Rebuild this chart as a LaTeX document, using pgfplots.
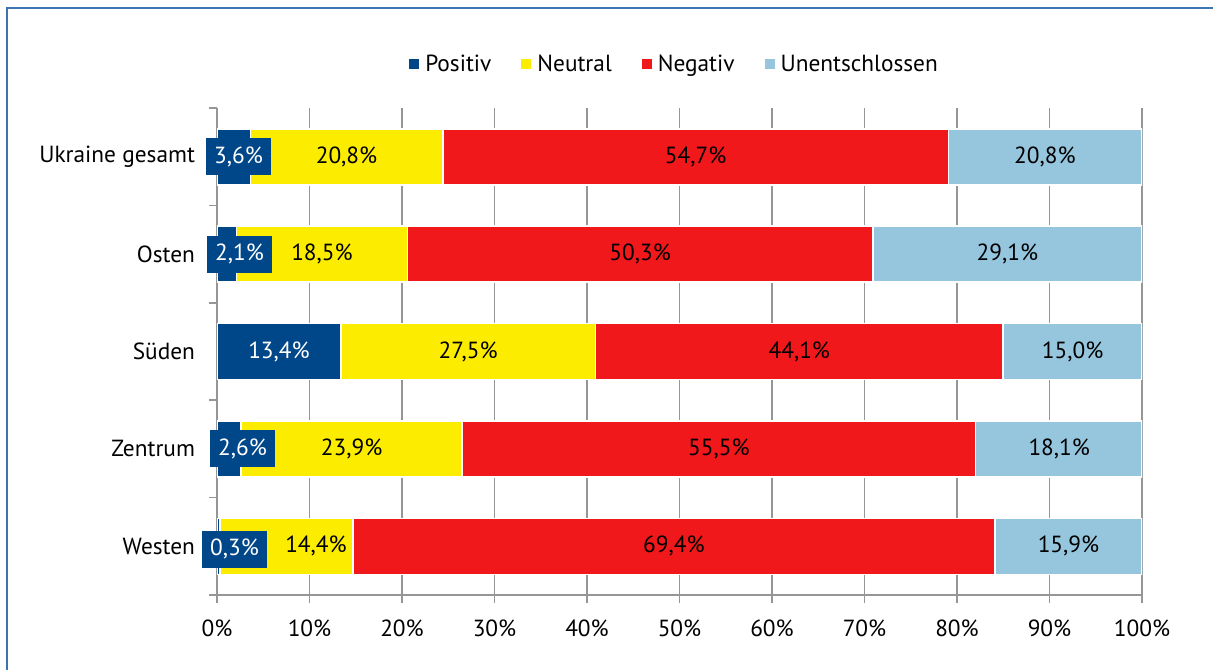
\documentclass[border=0pt]{standalone}
\usepackage{fontspec}
\setmainfont{PT Sans}
\usepackage{pgfplots}
\pgfplotsset{compat=1.18}
\definecolor{cpos}{RGB}{0,71,137}
\definecolor{cneu}{RGB}{252,237,0}
\definecolor{cneg}{RGB}{240,24,26}
\definecolor{cund}{RGB}{150,198,222}
\definecolor{cgrid}{RGB}{150,150,150}
\definecolor{cframe}{RGB}{60,115,180}

\pgfplotstableread{
x y label
14.0 0 20,8
51.75 0 54,7
89.5 0 20,8
11.35 1 18,5
45.75 1 50,3
85.45 1 29,1
27.15 2 27,5
62.95 2 44,1
92.5 2 15,0
14.55 3 23,9
54.25 3 55,5
91.05 3 18,1
10.7 4 14,4
49.4 4 69,4
92.05 4 15,9
}\blacklabels

\pgfplotstableread{
x y label
2.33 0 3,6
2.43 1 2,1
6.7 2 13,4
2.76 3 2,6
1.89 4.03 0,3
}\bluelabels

\begin{document}
\begin{tikzpicture}[x=0.75pt,y=0.75pt,font=\fontsize{17.5pt}{21pt}\selectfont]
\pgfplotsset{
  commonaxis/.style={
    at={(162.75pt,55.5pt)}, anchor=south west,
    scale only axis, width=693.75pt, height=365.25pt,
    xmin=0, xmax=100, ymin=-0.5, ymax=4.5, y dir=reverse,
  }
}
\begin{axis}[
  commonaxis,
  xbar stacked, bar width=42pt,
  xtick={0,10,...,100},
  xticklabels={0\%,10\%,20\%,30\%,40\%,50\%,60\%,70\%,80\%,90\%,100\%},
  ytick={0,1,2,3,4},
  yticklabels={Ukraine gesamt,Osten,Süden,Zentrum,Westen},
  minor ytick={-0.5,0.5,1.5,2.5,3.5,4.5},
  xmajorgrids, major grid style={cgrid, line width=1.1pt},
  axis x line*=bottom, axis y line*=left,
  axis line style={cgrid, line width=1.1pt, -},
  tick align=outside, major tick length=6pt, minor tick length=6pt,
  every tick/.style={cgrid, line width=1.1pt},
  every major y tick/.style={draw=none},
  xticklabel style={yshift=-9pt, text=black},
  yticklabel style={xshift=-7pt, text=black},
  legend style={at={(0.495,1)}, anchor=center, yshift=33pt, draw=none, fill=none,
    legend columns=4, font=\fontsize{17.5pt}{21pt}\selectfont,
    /tikz/every odd column/.append style={column sep=2.5pt},
    /tikz/every even column/.append style={column sep=20.5pt}},
  legend cell align=left,
  legend image code/.code={\fill[#1, draw=none] (0pt,-3.75pt) rectangle (7.5pt,3.75pt);},
]
\addplot[fill=cpos, draw=white, line width=1.2pt] coordinates {(3.6,0) (2.1,1) (13.4,2) (2.6,3) (0.3,4)};
\addlegendentry{Positiv}
\addplot[fill=cneu, draw=white, line width=1.2pt] coordinates {(20.8,0) (18.5,1) (27.5,2) (23.9,3) (14.4,4)};
\addlegendentry{Neutral}
\addplot[fill=cneg, draw=white, line width=1.2pt] coordinates {(54.7,0) (50.3,1) (44.1,2) (55.5,3) (69.4,4)};
\addlegendentry{Negativ}
\addplot[fill=cund, draw=white, line width=1.2pt] coordinates {(20.9,0) (29.1,1) (15.0,2) (18.0,3) (15.9,4)};
\addlegendentry{Unentschlossen}
\end{axis}
\begin{axis}[commonaxis, hide axis, clip=false]
\addplot[only marks, mark=none, nodes near coords={\pgfplotspointmeta\%},
  point meta=explicit symbolic,
  every node near coord/.append style={anchor=center, text=black, font=\fontsize{17.5pt}{21pt}\selectfont}]
  table[x=x, y=y, meta=label] {\blacklabels};
\addplot[only marks, mark=none, nodes near coords={\pgfplotspointmeta\%},
  point meta=explicit symbolic,
  every node near coord/.append style={anchor=center, text=white, fill=cpos,
    minimum width=48.75pt, minimum height=27.75pt, inner sep=0pt,
    font=\fontsize{17.5pt}{21pt}\selectfont}]
  table[x=x, y=y, meta=label] {\bluelabels};
\end{axis}
\draw[cframe, line width=1.5pt] (7,-5) -- (7,661) -- (1220,661);
\pgfresetboundingbox
\useasboundingbox (0,0) rectangle (1213,669);
\end{tikzpicture}
\end{document}
